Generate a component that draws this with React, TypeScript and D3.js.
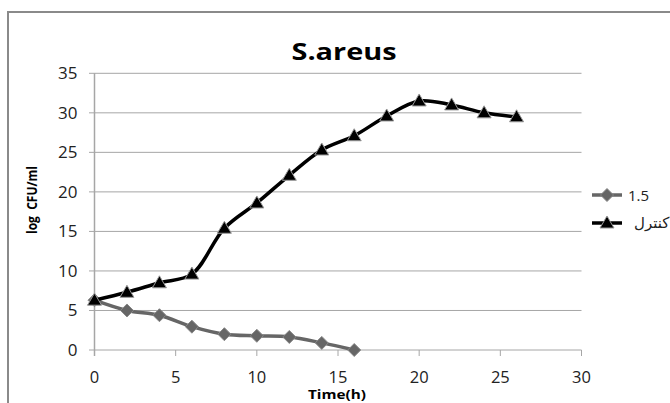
import React from "react";
import * as d3 from "d3";

const timesCtrl = [0, 2, 4, 6, 8, 10, 12, 14, 16, 18, 20, 22, 24, 26];
const valuesCtrl = [6.3, 7.3, 8.5, 9.6, 15.4, 18.6, 22.1, 25.3, 27.1, 29.6, 31.5, 31.0, 30.0, 29.5];
const times15 = [0, 2, 4, 6, 8, 10, 12, 14, 16];
const values15 = [6.3, 5.0, 4.4, 2.95, 2.0, 1.8, 1.65, 0.9, 0];
const yTicks = [0, 5, 10, 15, 20, 25, 30, 35];
const xTicks = [0, 5, 10, 15, 20, 25, 30];
const seriesNames = ["1.5", "كنترل"];

const W = 670;
const H = 403;

export default function App() {
  const x = d3.scaleLinear().domain([0, 30]).range([94.5, 581.5]);
  const y = d3.scaleLinear().domain([0, 35]).range([350, 73.3]);
  const line = d3
    .line<[number, number]>()
    .x((d) => x(d[0]))
    .y((d) => y(d[1]))
    .curve(d3.curveCatmullRom.alpha(0.5));

  const ctrlPts: [number, number][] = timesCtrl.map((t, i) => [t, valuesCtrl[i]]);
  const p15Pts: [number, number][] = times15.map((t, i) => [t, values15[i]]);

  const diamond = "M0,-6.5L6.5,0L0,6.5L-6.5,0Z";
  const tri = "M0,-7L7,5L-7,5Z";
  const font = "'Open Sans', 'DejaVu Sans', sans-serif";
  const gray = "#666666";

  return (
    <svg
      width={W}
      height={H}
      style={{ position: "absolute", left: 0, top: 0, background: "#fff" }}
      fontFamily={font}
    >
      <rect x={8} y={12} width={700} height={420} fill="#fff" stroke="#8a8a8a" strokeWidth={2} />
      <text
        x={344}
        y={60}
        textAnchor="middle"
        fontSize={24}
        fontWeight="bold"
        textLength={105}
        lengthAdjust="spacingAndGlyphs"
        fill="#000"
      >
        S.areus
      </text>
      {yTicks.map((v) => (
        <g key={"y" + v}>
          <line x1={89} x2={581.5} y1={y(v)} y2={y(v)} stroke="#a6a6a6" strokeWidth={1} />
          <text x={77.5} y={y(v) + 6} textAnchor="end" fontSize={17} fill="#222">
            {v}
          </text>
        </g>
      ))}
      <line x1={x(0)} x2={x(0)} y1={y(35)} y2={356} stroke="#a6a6a6" strokeWidth={1.5} />
      {xTicks.map((t) => (
        <g key={"x" + t}>
          <line x1={x(t)} x2={x(t)} y1={350} y2={356} stroke="#a6a6a6" strokeWidth={1} />
          <text x={x(t)} y={383} textAnchor="middle" fontSize={16.5} fill="#222">
            {t}
          </text>
        </g>
      ))}
      <text
        x={337}
        y={399}
        textAnchor="middle"
        fontSize={12}
        fontWeight="bold"
        textLength={58}
        lengthAdjust="spacingAndGlyphs"
      >
        Time(h)
      </text>
      <text
        transform="translate(37,200) rotate(-90)"
        textAnchor="middle"
        fontSize={14}
        fontWeight="bold"
        style={{ whiteSpace: "pre" }}
        textLength={68}
        lengthAdjust="spacingAndGlyphs"
      >
        {"log  CFU/ml"}
      </text>

      <path d={line(p15Pts) || ""} fill="none" stroke={gray} strokeWidth={3.5} />
      {p15Pts.map((p, i) => (
        <path
          key={"d" + i}
          d={diamond}
          transform={`translate(${x(p[0])},${y(p[1])})`}
          fill={gray}
          stroke="#888"
          strokeWidth={1}
        />
      ))}
      <path d={line(ctrlPts) || ""} fill="none" stroke="#000" strokeWidth={3.5} />
      {ctrlPts.map((p, i) => (
        <path
          key={"t" + i}
          d={tri}
          transform={`translate(${x(p[0])},${y(p[1])})`}
          fill="#000"
          stroke="#999"
          strokeWidth={1}
        />
      ))}

      <g>
        <line x1={592} x2={622} y1={195} y2={195} stroke={gray} strokeWidth={3.5} />
        <path d={diamond} transform="translate(607,195)" fill={gray} stroke="#888" strokeWidth={1} />
        <text x={628} y={200.5} fontSize={15} fill="#222">
          {seriesNames[0]}
        </text>
        <line x1={592} x2={622} y1={223} y2={223} stroke="#000" strokeWidth={3.5} />
        <path d={tri} transform="translate(607,223)" fill="#000" stroke="#999" strokeWidth={1} />
        <text x={634} y={228} fontSize={15} fill="#222" fontFamily="'DejaVu Sans', 'Noto Sans', sans-serif">
          {seriesNames[1]}
        </text>
      </g>
    </svg>
  );
}
